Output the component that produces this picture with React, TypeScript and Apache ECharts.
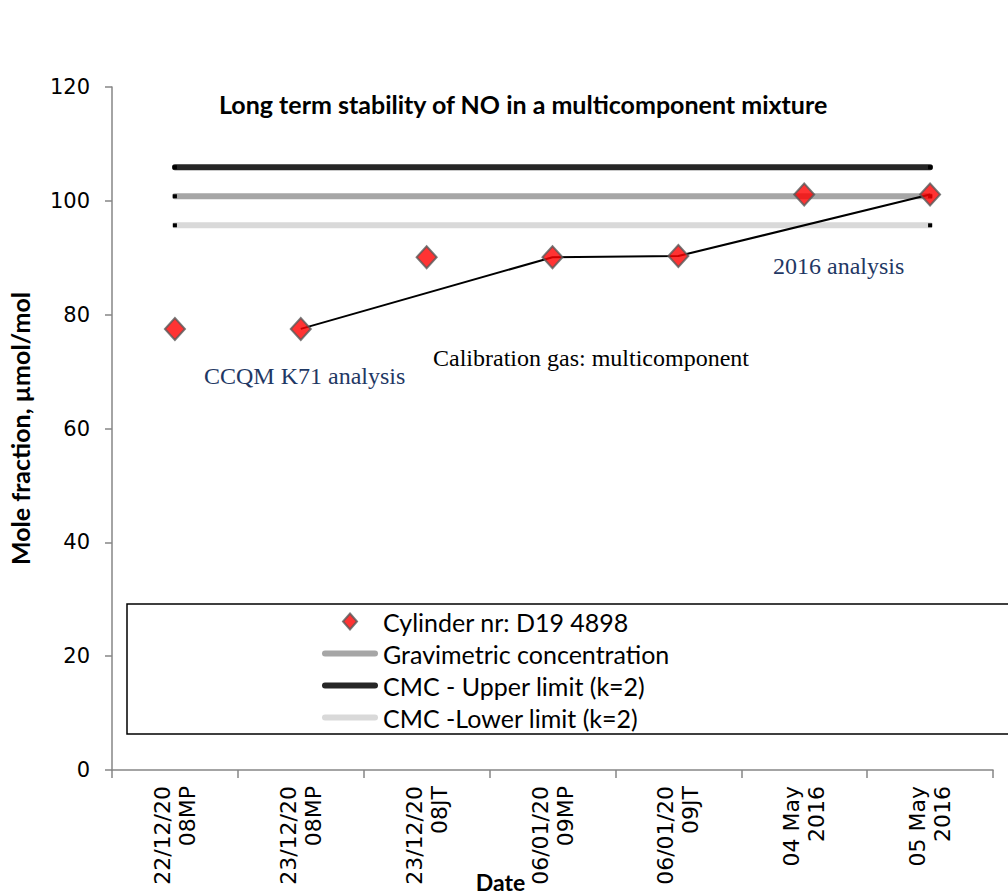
import React, { useEffect, useRef } from "react";
import * as echarts from "echarts";

// Sample dates (two-line tick labels)
const categories = [
  "22/12/20\n08MP",
  "23/12/20\n08MP",
  "23/12/20\n08JT",
  "06/01/20\n09MP",
  "06/01/20\n09JT",
  "04 May\n2016",
  "05 May\n2016",
];

// Measured NO mole fraction, µmol/mol
const cylinderValues = [77.5, 77.5, 90.1, 90.1, 90.3, 101.1, 101.1];
// Trend through the multicomponent calibrations
const trendValues = [null, 77.5, null, 90.1, 90.3, null, 101.1];
// Reference levels
const gravimetricValues = [100.8, 100.8, 100.8, 100.8, 100.8, 100.8, 100.8];
const upperLimitValues = [105.9, 105.9, 105.9, 105.9, 105.9, 105.9, 105.9];
const lowerLimitValues = [95.7, 95.7, 95.7, 95.7, 95.7, 95.7, 95.7];

const yTicks = { min: 0, max: 120, interval: 20 };

const SANS = "DejaVu Sans";
const BOLD = "Lato";
const SERIF = "Liberation Serif";

// Rounded bar used as the legend icon of the level lines
const LINE_ICON = "path://M3,0 H53 A3,3 0 0 1 53,6 H3 A3,3 0 0 1 3,0 Z";
// Diamond inside a 56x16 box, so the legend keeps its proportions
const DIAMOND_ICON = "path://M0,0 M56,16 M28,0 L35,8 L28,16 L21,8 Z";

// Put a small black marker on the first and last point of a level line
const withEndMarks = (values: number[]) =>
  values.map((v, i) =>
    i === 0 || i === values.length - 1
      ? { value: v, symbol: "rect", symbolSize: [4, 4], itemStyle: { color: "#000" } }
      : v
  );

export default function App() {
  const ref = useRef<HTMLDivElement>(null);

  useEffect(() => {
    if (!ref.current) return;
    const chart = echarts.init(ref.current, undefined, { renderer: "svg" });

    const levelLine = (name: string, values: number[], color: string) => ({
      name,
      type: "line",
      data: withEndMarks(values),
      symbol: "none",
      showSymbol: true,
      lineStyle: { color, width: 6, cap: "round" },
      itemStyle: { color },
      z: 2,
    });

    chart.setOption({
      animation: false,
      backgroundColor: "#fff",
      title: {
        text: "Long term stability of NO in a multicomponent mixture",
        left: 219,
        top: 91,
        padding: 0,
        textStyle: { fontFamily: BOLD, fontWeight: "bold", fontSize: 25, color: "#000" },
      },
      grid: {
        left: 112,
        right: 15,
        top: 87,
        bottom: 126,
        containLabel: false,
        outerBoundsMode: "none",
      },
      xAxis: {
        type: "category",
        data: categories,
        boundaryGap: true,
        name: "Date",
        nameLocation: "middle",
        nameGap: 99,
        nameMoveOverlap: false,
        nameTextStyle: {
          fontFamily: BOLD,
          fontWeight: "bold",
          fontSize: 23,
          lineHeight: 26,
          color: "#000",
          padding: [0, 104, 0, 0],
        },
        axisLine: { lineStyle: { color: "#868686", width: 1.5 } },
        axisTick: { show: true, length: 8, lineStyle: { color: "#868686", width: 1.5 } },
        axisLabel: {
          interval: 0,
          rotate: 90,
          margin: 16,
          fontFamily: SANS,
          fontSize: 22,
          lineHeight: 25,
          color: "#000",
        },
        splitLine: { show: false },
      },
      yAxis: {
        type: "value",
        min: yTicks.min,
        max: yTicks.max,
        interval: yTicks.interval,
        name: "Mole fraction, µmol/mol",
        nameLocation: "middle",
        nameGap: 80,
        nameMoveOverlap: false,
        nameTextStyle: { fontFamily: BOLD, fontWeight: "bold", fontSize: 25, color: "#000" },
        axisLine: { show: true, lineStyle: { color: "#868686", width: 1.5 } },
        axisTick: { show: true, length: 7, lineStyle: { color: "#868686", width: 1.5 } },
        axisLabel: { margin: 22, fontFamily: SANS, fontSize: 21, color: "#000" },
        splitLine: { show: false },
      },
      legend: {
        orient: "vertical",
        left: 127,
        top: 604,
        padding: [5, 380, 4, 194],
        backgroundColor: "#fff",
        borderColor: "#000",
        borderWidth: 1.5,
        borderRadius: 0,
        itemWidth: 56,
        itemHeight: 16,
        itemGap: 7,
        selectedMode: false,
        data: [
          { name: "Cylinder nr: D19 4898", icon: DIAMOND_ICON },
          { name: "Gravimetric concentration", icon: LINE_ICON },
          { name: "CMC - Upper limit (k=2)", icon: LINE_ICON },
          { name: "CMC -Lower limit (k=2)", icon: LINE_ICON },
        ],
        textStyle: { fontFamily: BOLD, fontSize: 25, lineHeight: 25, color: "#000" },
      },
      series: [
        levelLine("Gravimetric concentration", gravimetricValues, "#A6A6A6"),
        levelLine("CMC - Upper limit (k=2)", upperLimitValues, "#262626"),
        levelLine("CMC -Lower limit (k=2)", lowerLimitValues, "#D9D9D9"),
        {
          name: "Trend",
          type: "line",
          data: trendValues,
          connectNulls: true,
          symbol: "none",
          lineStyle: { color: "#000", width: 2 },
          z: 3,
        },
        {
          name: "Cylinder nr: D19 4898",
          type: "scatter",
          data: cylinderValues,
          symbol: "diamond",
          symbolSize: [20, 22],
          itemStyle: { color: "#FF0000", borderColor: "#595959", borderWidth: 2 },
          z: 4,
        },
      ],
      graphic: [
        {
          type: "text",
          left: 204,
          top: 364,
          style: { text: "CCQM K71 analysis", font: `24px "${SERIF}"`, fill: "#1F3864" },
        },
        {
          type: "text",
          left: 773,
          top: 254,
          style: { text: "2016 analysis", font: `24px "${SERIF}"`, fill: "#1F3864" },
        },
        {
          type: "text",
          left: 433,
          top: 346,
          style: { text: "Calibration gas: multicomponent", font: `24px "${SERIF}"`, fill: "#000" },
        },
      ],
    });

    return () => chart.dispose();
  }, []);

  return (
    <div
      ref={ref}
      style={{ position: "absolute", left: 0, top: 0, width: 1008, height: 896 }}
    />
  );
}
